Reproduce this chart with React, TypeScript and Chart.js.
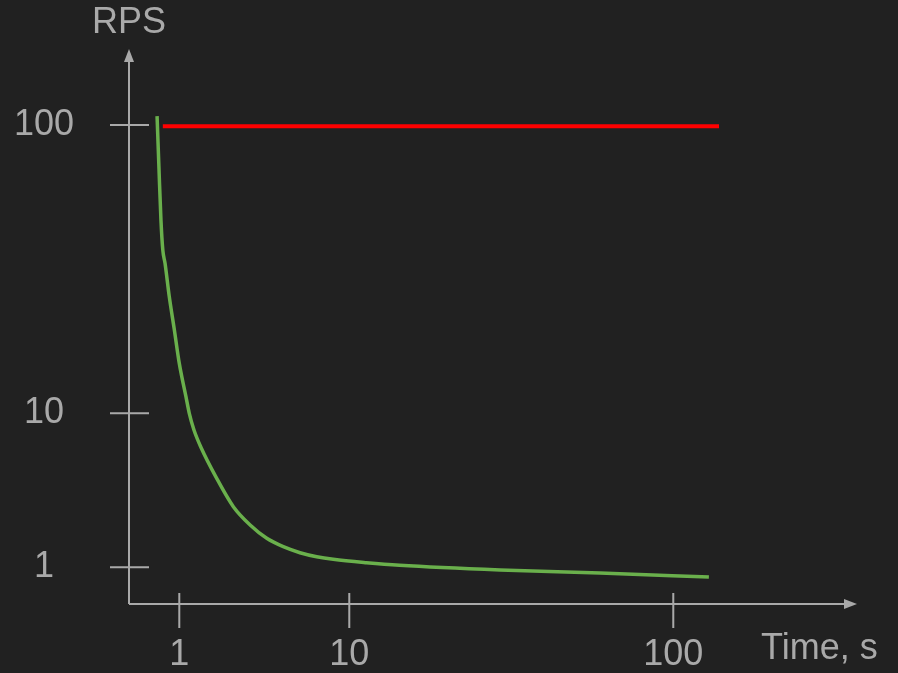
import React, { useEffect, useRef } from 'react';
import { Chart, Scale, registerables } from 'chart.js';

// ---- data ----
const xTickValues = [1, 10, 100];
const xTickLabels = ['1', '10', '100'];
const yTickValues = [1, 10, 100];
const yTickLabels = ['1', '10', '100'];
const xAxisTitle = 'Time, s';
const yAxisTitle = 'RPS';

const greenTime = [0.74, 0.76, 0.78, 0.8, 0.824, 0.873, 0.935, 1.0, 1.095, 1.145, 1.22, 1.336, 1.66, 2.08, 2.61, 3.27, 4.09, 5.13, 6.43, 8.05, 11.3, 14.3, 29.2, 59.4, 128.8];
const greenRps = [107.4, 69.8, 46.8, 36.8, 33.2, 25.4, 19.5, 14.9, 11.4, 10.0, 7.79, 6.07, 3.78, 2.475, 1.883, 1.543, 1.361, 1.244, 1.172, 1.127, 1.071, 1.03, 0.96, 0.918, 0.865];
const redTime = [0.8, 138.4];
const redRps = [99, 99];

// ---- style ----
const BG = '#212121';
const AXIS = '#a9a9a9';
const TEXT = '#a9a9a9';
const GREEN = '#6ab04c';
const RED = '#ff0000';
const FONT = '36px "Liberation Sans", Arial, sans-serif';

// Hand-drawn "log-like" scale: each decade between breaks has its own relative length.
class SketchLogScale extends Scale {
  static id = 'sketchLog';
  static defaults = {};
  _u(v: number): number {
    const o: any = this.options;
    const b: number[] = (o.breaks as number[]).map((x: number) => Math.log10(x));
    const spans: number[] = o.spans as number[];
    const L = Math.log10(v);
    if (L <= b[0]) return ((L - b[0]) / (b[1] - b[0])) * spans[0];
    let u = 0;
    for (let i = 0; i < spans.length; i++) {
      const lo = b[i];
      const hi = b[i + 1];
      if (L <= hi || i === spans.length - 1) return u + ((L - lo) / (hi - lo)) * spans[i];
      u += spans[i];
    }
    return u;
  }
  determineDataLimits() {
    const o: any = this.options;
    (this as any).min = o.min;
    (this as any).max = o.max;
  }
  buildTicks() {
    const o: any = this.options;
    return (o.breaks as number[]).map((v: number) => ({ value: v }));
  }
  getLabelForValue(v: number) {
    return String(v);
  }
  getPixelForValue(v: number) {
    const a = this._u((this as any).min);
    const b = this._u((this as any).max);
    return this.getPixelForDecimal((this._u(v) - a) / (b - a));
  }
  getValueForPixel(p: number) {
    const d = this.getDecimalForPixel(p);
    let lo = (this as any).min;
    let hi = (this as any).max;
    for (let i = 0; i < 50; i++) {
      const mid = Math.sqrt(lo * hi);
      const a = this._u((this as any).min);
      const b = this._u((this as any).max);
      if ((this._u(mid) - a) / (b - a) < d) lo = mid;
      else hi = mid;
    }
    return lo;
  }
}

Chart.register(...registerables, SketchLogScale as any);

const axesPlugin = {
  id: 'sketchAxes',
  beforeDatasetsDraw(chart: any) {
    const { ctx, chartArea: a, scales } = chart;
    const xs = scales.x;
    const ys = scales.y;
    const ox = a.left;
    const oy = a.bottom;
    const head = 13;
    const half = 5;
    ctx.save();
    ctx.strokeStyle = AXIS;
    ctx.fillStyle = AXIS;
    ctx.lineWidth = 2;
    ctx.beginPath();
    ctx.moveTo(ox, oy);
    ctx.lineTo(a.right - head, oy);
    ctx.moveTo(ox, oy);
    ctx.lineTo(ox, a.top + head);
    ctx.stroke();
    ctx.beginPath();
    ctx.moveTo(a.right, oy);
    ctx.lineTo(a.right - head, oy - half);
    ctx.lineTo(a.right - head, oy + half);
    ctx.closePath();
    ctx.fill();
    ctx.beginPath();
    ctx.moveTo(ox, a.top);
    ctx.lineTo(ox - half, a.top + head);
    ctx.lineTo(ox + half, a.top + head);
    ctx.closePath();
    ctx.fill();
    ctx.beginPath();
    yTickValues.forEach((v) => {
      const py = ys.getPixelForValue(v);
      ctx.moveTo(ox - 19, py);
      ctx.lineTo(ox + 20, py);
    });
    xTickValues.forEach((v) => {
      const px = xs.getPixelForValue(v);
      ctx.moveTo(px, oy - 11);
      ctx.lineTo(px, oy + 24);
    });
    ctx.stroke();

    ctx.font = FONT;
    ctx.fillStyle = TEXT;
    ctx.textAlign = 'center';
    ctx.textBaseline = 'middle';
    yTickValues.forEach((v, i) => ctx.fillText(yTickLabels[i], 44, ys.getPixelForValue(v)));
    xTickValues.forEach((v, i) => ctx.fillText(xTickLabels[i], xs.getPixelForValue(v), oy + 51));
    ctx.textBaseline = 'alphabetic';
    ctx.fillText(yAxisTitle, ox, 33);
    ctx.textAlign = 'left';
    ctx.fillText(xAxisTitle, 761, 659);
    ctx.restore();
  },
};

export default function App() {
  const ref = useRef<HTMLCanvasElement | null>(null);
  useEffect(() => {
    if (!ref.current) return;
    const chart = new Chart(ref.current, {
      type: 'line',
      data: {
        datasets: [
          {
            label: 'Limit',
            data: redTime.map((t, i) => ({ x: t, y: redRps[i] })),
            borderColor: RED,
            borderWidth: 4,
            pointRadius: 0,
            fill: false,
          },
          {
            label: 'RPS',
            data: greenTime.map((t, i) => ({ x: t, y: greenRps[i] })),
            borderColor: GREEN,
            borderWidth: 3.5,
            pointRadius: 0,
            fill: false,
            cubicInterpolationMode: 'monotone',
          },
        ],
      },
      options: {
        animation: false,
        responsive: true,
        maintainAspectRatio: false,
        events: [],
        layout: { padding: { left: 129, right: 41, top: 49, bottom: 69 } },
        plugins: { legend: { display: false }, tooltip: { enabled: false } },
        scales: {
          x: {
            type: 'sketchLog',
            display: false,
            min: 0.506,
            max: 369,
            breaks: xTickValues,
            spans: [1, 1.906],
          } as any,
          y: {
            type: 'sketchLog',
            display: false,
            min: 0.578,
            max: 183.5,
            breaks: yTickValues,
            spans: [1, 1.872],
          } as any,
        },
      },
      plugins: [axesPlugin],
    });
    return () => chart.destroy();
  }, []);
  return (
    <div style={{ position: 'fixed', left: 0, top: 0, width: 898, height: 673, background: BG }}>
      <canvas ref={ref} />
    </div>
  );
}
